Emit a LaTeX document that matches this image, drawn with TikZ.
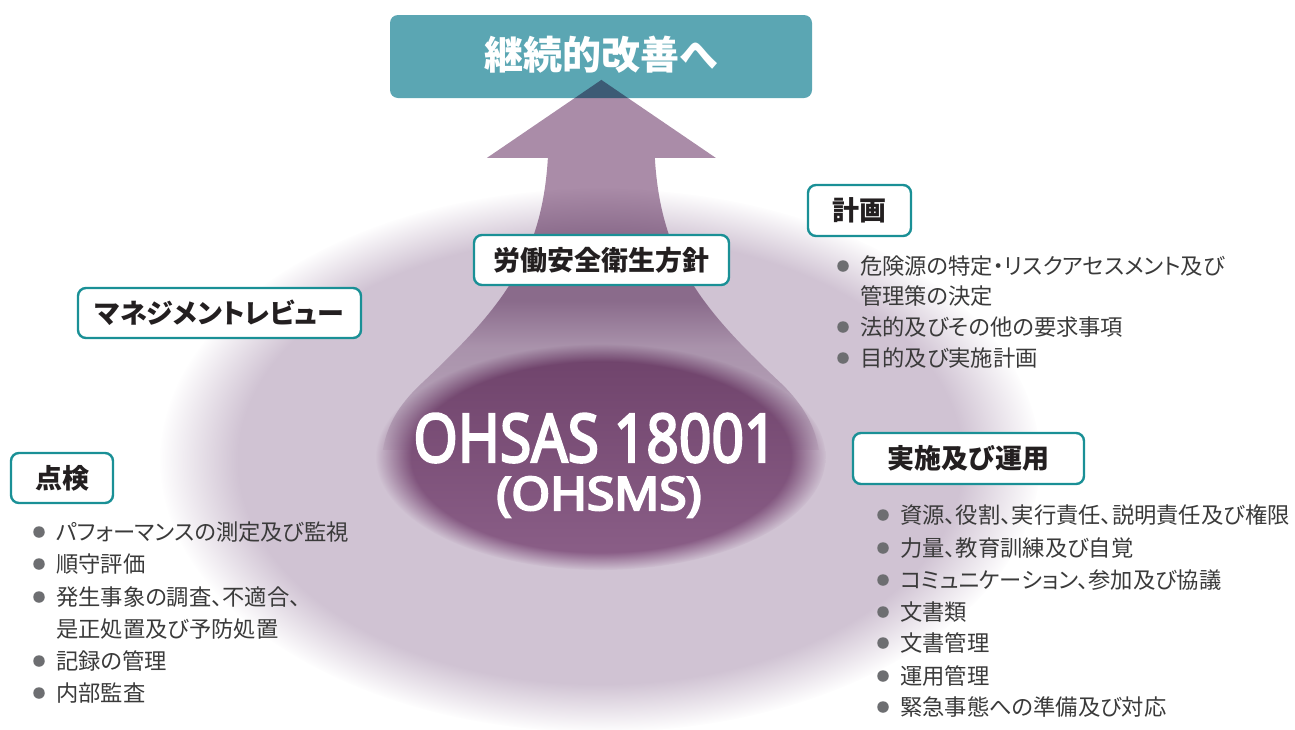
\documentclass[tikz,border=0pt]{standalone}
\usepackage{fontspec}
\usepackage{graphicx}
\setmainfont{Noto Sans}
\newfontfamily\jp{Noto Sans CJK JP}[RawFeature=+palt]
\font\ohsasfont="Noto Sans:embolden=3.5" at 67pt
\font\ohsmsfont="Noto Sans:embolden=4.5" at 46pt
\usetikzlibrary{fadings}
\definecolor{goalteal}{HTML}{5BA6B3}
\definecolor{boxteal}{HTML}{1A9096}
\definecolor{arrowcol}{HTML}{AA8CA8}
\definecolor{lilac}{HTML}{D0C3D3}
\definecolor{darktop}{HTML}{6E426A}
\definecolor{darkmid}{HTML}{875B85}
\definecolor{darkbot}{HTML}{8C6089}
\definecolor{labeltext}{HTML}{231F20}
\definecolor{listtext}{HTML}{3A3A3A}
\definecolor{bulletgray}{HTML}{6D6E71}
\pgfdeclareradialshading{bigsoftshade}{\pgfpointorigin}{color(0bp)=(white); color(20.5bp)=(white); color(25bp)=(black); color(50bp)=(black)}
\pgfdeclarefading{bigsoft}{\pgfuseshading{bigsoftshade}}
\pgfdeclareradialshading{smallsoftshade}{\pgfpointorigin}{color(0bp)=(white); color(21bp)=(white); color(25bp)=(black); color(50bp)=(black)}
\pgfdeclarefading{smallsoft}{\pgfuseshading{smallsoftshade}}
\pgfdeclareverticalshading{arrowfadeshade}{100bp}{color(0bp)=(black); color(25bp)=(white!10!black); color(29bp)=(white!35!black); color(39bp)=(white!55!black); color(45.3bp)=(white); color(100bp)=(white)}
\pgfdeclarefading{arrowfade}{\pgfuseshading{arrowfadeshade}}
\tikzset{
  labelbox/.style={draw=boxteal, line width=2.4pt, fill=white, rounded corners=8pt,
    font=\jp\bfseries\fontsize{27}{27}\selectfont, text=labeltext, inner sep=0pt},
  goalbox/.style={fill=goalteal, rounded corners=8pt, inner sep=0pt},
  goaltext/.style={font=\jp\bfseries\fontsize{39}{39}\selectfont, text=white, inner sep=0pt},
  itemtext/.style={anchor=base west, font=\jp\fontsize{22.3}{22.3}\selectfont, text=listtext, inner sep=0pt},
  bulletdot/.style={circle, fill=bulletgray, minimum size=11.5pt, inner sep=0pt},
  bigtext/.style={text=white, inner sep=0pt, anchor=base},
}
\begin{document}
\begin{tikzpicture}[x=1pt,y=-1pt]
\useasboundingbox (0,0) rectangle (1295,729);
\clip (0,0) rectangle (1295,729);
% soft background ellipse
\fill[lilac, path fading=bigsoft] (600,460) ellipse [x radius=440, y radius=272];
% goal box
\node[goalbox, minimum width=422pt, minimum height=83pt] (goal) at (601,56.5) {};
% arrow
\fill[arrowcol, blend mode=multiply, path fading=arrowfade] (601.5,80) -- (716,158) -- (655,158)
  .. controls (661,260) and (703,310) .. (783,385)
  .. controls (803,405) and (815,425) .. (819,450)
  -- (383,450)
  .. controls (387,425) and (399,405) .. (420,385)
  .. controls (500,310) and (542,260) .. (548,158)
  -- (487,158) -- cycle;
\node[goaltext] (goaltxt) at (601,55) {継続的改善へ};
% dark ellipse
\shade[top color=darktop, middle color=darkmid, bottom color=darkbot, path fading=smallsoft]
  (601,457) ellipse [x radius=225, y radius=113];
\node[bigtext] (ohsas) at (595,462) {\ohsasfont\scalebox{0.85}[1]{OHSAS 18001}};
\node[bigtext] (ohsms) at (599,510) {\ohsmsfont\scalebox{1.08}[1]{(OHSMS)}};
% label boxes
\node[labelbox, minimum width=255pt, minimum height=50pt] (policy) at (601.5,260) {労働安全衛生方針};
\node[labelbox, minimum width=283pt, minimum height=50pt] (review) at (219.5,313) {マネジメントレビュー};
\node[labelbox, minimum width=102pt, minimum height=50pt] (check) at (62,478) {点検};
\node[labelbox, minimum width=103pt, minimum height=51pt] (plan) at (859.5,210.5) {計画};
\node[labelbox, minimum width=231pt, minimum height=51pt] (do) at (968.5,458.5) {実施及び運用};
% check list
\node[bulletdot] (cb1) at (39,532) {};
\node[itemtext] (ct1) at (56,540.4) {パフォーマンスの測定及び監視};
\node[bulletdot] (cb2) at (39,564) {};
\node[itemtext] (ct2) at (56,572.4) {順守評価};
\node[bulletdot] (cb3) at (39,597) {};
\node[itemtext] (ct3) at (56,605.4) {発生事象の調査、不適合、};
\node[itemtext] (ct3b) at (56,637.4) {是正処置及び予防処置};
\node[bulletdot] (cb4) at (39,661) {};
\node[itemtext] (ct4) at (56,669.4) {記録の管理};
\node[bulletdot] (cb5) at (39,693) {};
\node[itemtext] (ct5) at (56,701.4) {内部監査};
% plan list
\node[bulletdot] (pb1) at (843,266) {};
\node[itemtext] (pt1) at (860,274.4) {危険源の特定・リスクアセスメント及び};
\node[itemtext] (pt1b) at (860,304.4) {管理策の決定};
\node[bulletdot] (pb2) at (843,327) {};
\node[itemtext] (pt2) at (860,335.4) {法的及びその他の要求事項};
\node[bulletdot] (pb3) at (843,358) {};
\node[itemtext] (pt3) at (860,366.4) {目的及び実施計画};
% do list
\node[bulletdot] (db1) at (883,515) {};
\node[itemtext] (dt1) at (900,523.4) {資源、役割、実行責任、説明責任及び権限};
\node[bulletdot] (db2) at (883,548) {};
\node[itemtext] (dt2) at (900,556.4) {力量、教育訓練及び自覚};
\node[bulletdot] (db3) at (883,580) {};
\node[itemtext] (dt3) at (900,588.4) {コミュニケーション、参加及び協議};
\node[bulletdot] (db4) at (883,612) {};
\node[itemtext] (dt4) at (900,620.4) {文書類};
\node[bulletdot] (db5) at (883,643) {};
\node[itemtext] (dt5) at (900,651.4) {文書管理};
\node[bulletdot] (db6) at (883,676) {};
\node[itemtext] (dt6) at (900,684.4) {運用管理};
\node[bulletdot] (db7) at (883,707) {};
\node[itemtext] (dt7) at (900,715.4) {緊急事態への準備及び対応};
\end{tikzpicture}
\end{document}
